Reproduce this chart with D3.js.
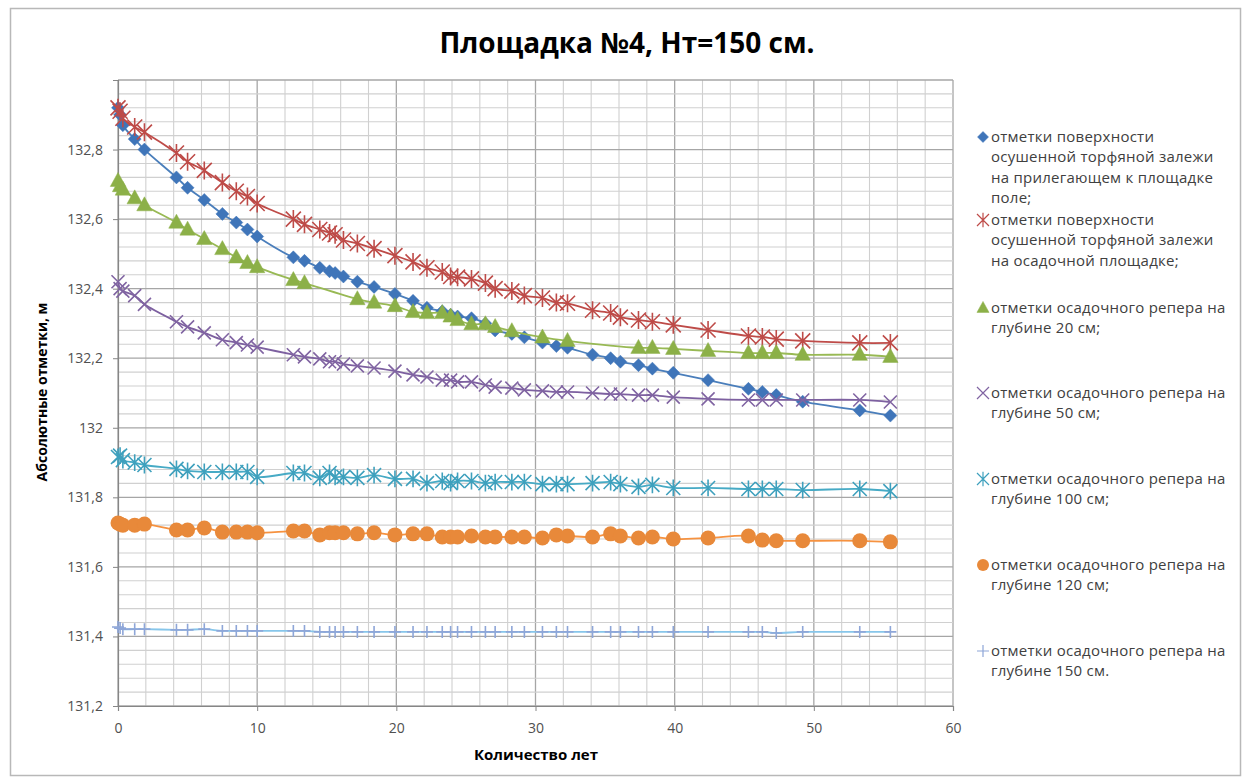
<!DOCTYPE html>
<html><head><meta charset="utf-8">
<script src="https://cdn.jsdelivr.net/npm/d3@7"></script>
<style>body{margin:0;background:#fff}svg{display:block}</style>
</head><body><svg id="c" width="1247" height="781"></svg>
<script>
const title = "Площадка №4, Нт=150 см.";
const xTitle = "Количество лет";
const yTitle = "Абсолютные отметки, м";
const xTicks = [0,10,20,30,40,50,60];
const yTicks = [131.2,131.4,131.6,131.8,132,132.2,132.4,132.6,132.8];
const years = [0,0.15,0.35,1.2,1.9,4.2,5.0,6.2,7.5,8.5,9.3,10.0,12.6,13.4,14.5,15.2,15.6,16.2,17.2,18.4,19.9,21.2,22.2,23.3,23.9,24.4,25.4,26.4,27.1,28.3,29.2,30.5,31.5,32.3,34.1,35.4,36.1,37.4,38.4,39.9,42.4,45.3,46.3,47.3,49.2,53.3,55.5];
const sFieldSurface = [132.92,132.90,132.87,132.83,132.80,132.72,132.69,132.655,132.615,132.59,132.57,132.55,132.49,132.48,132.46,132.45,132.445,132.435,132.42,132.405,132.385,132.365,132.345,132.335,132.325,132.32,132.315,132.30,132.28,132.27,132.26,132.245,132.235,132.23,132.21,132.20,132.19,132.18,132.17,132.158,132.137,132.112,132.103,132.094,132.075,132.05,132.035];
const sPlotSurface = [132.92,132.91,132.89,132.865,132.85,132.79,132.765,132.74,132.705,132.68,132.665,132.645,132.60,132.585,132.57,132.56,132.555,132.54,132.53,132.515,132.495,132.477,132.46,132.448,132.435,132.433,132.428,132.416,132.40,132.393,132.38,132.373,132.36,132.358,132.338,132.33,132.318,132.31,132.305,132.296,132.281,132.264,132.261,132.255,132.25,132.244,132.244];
const sDepth20 = [132.71,132.695,132.685,132.66,132.64,132.59,132.57,132.543,132.514,132.49,132.474,132.462,132.425,132.416,null,null,null,null,132.37,132.36,132.35,132.333,132.33,132.33,132.32,132.31,132.298,132.298,132.29,132.278,null,132.26,null,132.25,null,null,null,132.23,132.23,132.227,132.221,132.215,132.215,132.215,132.21,132.21,132.204];
const sDepth50 = [132.42,132.40,132.393,132.38,132.355,132.305,132.29,132.273,132.253,132.245,132.238,132.232,132.21,132.204,132.198,132.19,132.19,132.183,132.178,132.172,132.163,132.152,132.146,132.137,132.137,132.132,132.132,132.123,132.117,132.114,132.109,132.106,132.103,132.103,132.10,132.097,132.097,132.094,132.094,132.088,132.083,132.08,132.08,132.08,132.08,132.08,132.074];
const sDepth100 = [131.916,131.92,131.907,131.90,131.893,131.882,131.876,131.873,131.873,131.873,131.873,131.859,131.87,131.87,131.856,131.87,131.859,131.859,131.856,131.864,131.853,131.853,131.841,131.847,131.841,131.847,131.847,131.841,131.844,131.844,131.844,131.838,131.838,131.838,131.841,131.844,131.838,131.83,131.836,131.827,131.827,131.824,131.824,131.824,131.821,131.824,131.818];
const sDepth120 = [131.726,131.723,131.72,131.72,131.723,131.706,131.706,131.712,131.70,131.70,131.70,131.698,131.703,131.703,131.692,131.698,131.698,131.698,131.695,131.698,131.692,131.695,131.695,131.686,131.686,131.686,131.689,131.686,131.686,131.686,131.686,131.683,131.692,131.689,131.686,131.695,131.689,131.683,131.686,131.68,131.683,131.689,131.677,131.675,131.675,131.675,131.672];
const sDepth150 = [131.427,131.424,131.421,131.421,131.421,131.419,131.419,131.421,131.416,131.416,131.416,131.416,131.416,131.416,131.413,131.413,131.413,131.413,131.413,131.413,131.413,131.413,131.413,131.413,131.413,131.413,131.413,131.413,131.413,131.413,131.413,131.413,131.413,131.413,131.413,131.413,131.413,131.413,131.413,131.413,131.413,131.413,131.413,131.41,131.413,131.413,131.413];
const legendLabels = [
 ["отметки поверхности","осушенной торфяной залежи","на прилегающем к площадке","поле;"],
 ["отметки поверхности","осушенной торфяной залежи","на осадочной площадке;"],
 ["отметки осадочного репера на","глубине 20 см;"],
 ["отметки осадочного репера на","глубине 50 см;"],
 ["отметки осадочного репера на","глубине 100 см;"],
 ["отметки осадочного репера на","глубине 120 см;"],
 ["отметки осадочного репера на","глубине 150 см."]
];

const series = [
 {v:sFieldSurface, line:"#4A7EBB", mark:"#3F75B9", shape:"diamond", size:13},
 {v:sPlotSurface, line:"#BE4B48", mark:"#BE4B48", shape:"star", size:15},
 {v:sDepth20, line:"#98B954", mark:"#8CB048", shape:"triangle", size:14},
 {v:sDepth50, line:"#7D60A0", mark:"#8064A2", shape:"x", size:13},
 {v:sDepth100, line:"#46AAC5", mark:"#3EA0BD", shape:"star", size:14},
 {v:sDepth120, line:"#F69240", mark:"#E8893A", shape:"circle", size:15},
 {v:sDepth150, line:"#87C6EA", mark:"#8EA6D8", shape:"plus", size:12}
];

const svg = d3.select("#c");
const font = "'Open Sans', 'Liberation Sans', sans-serif";
const L=118, R=953, T=80, B=706;
const x = d3.scaleLinear().domain([0,60]).range([L,R]);
const y = d3.scaleLinear().domain([131.2,133.0]).range([B,T]);

// outer border
svg.append("rect").attr("x",10.5).attr("y",8.5).attr("width",1230).attr("height",767)
  .attr("fill","#fff").attr("stroke","#B8B8B8").attr("stroke-width",1.5);

// grid
const g = svg.append("g");
d3.range(0,60.001,2).forEach(v=>{
  const major = Math.abs(v%10)<1e-6;
  g.append("line").attr("x1",x(v)).attr("x2",x(v)).attr("y1",T).attr("y2",B)
   .attr("stroke", major?"#A6A6A6":"#D0D0D0").attr("stroke-width",major?1.3:1.1);
});
d3.range(0,46).forEach(i=>{
  const v = 131.2 + i*0.04;
  const major = i%5===0;
  g.append("line").attr("x1",L).attr("x2",R).attr("y1",y(v)).attr("y2",y(v))
   .attr("stroke", major?"#A6A6A6":"#D0D0D0").attr("stroke-width",major?1.3:1.1);
});

// axes
const xa = svg.append("g").attr("transform",`translate(0,${B})`)
  .call(d3.axisBottom(x).tickValues(xTicks).tickSize(5).tickPadding(12).tickFormat(d3.format("d")));
const ya = svg.append("g").attr("transform",`translate(${L},0)`)
  .call(d3.axisLeft(y).tickValues(yTicks).tickSize(5).tickPadding(10).tickFormat(d=>String(+d.toFixed(1)).replace(".",",")));
[xa,ya].forEach(a=>{
  a.select(".domain").attr("stroke","#868686").attr("stroke-width",1.2);
  a.selectAll(".tick line").attr("stroke","#868686");
  a.selectAll("text").attr("font-family",font).attr("font-size",14).attr("fill","#505050");
});

// lines and markers
const sym = {
 diamond: s=>`M0,${-s/2}L${s/2},0L0,${s/2}L${-s/2},0Z`,
 triangle: s=>`M0,${-s*0.6}L${s*0.55},${s*0.4}L${-s*0.55},${s*0.4}Z`,
 x: s=>`M${-s/2},${-s/2}L${s/2},${s/2}M${-s/2},${s/2}L${s/2},${-s/2}`,
 star: s=>`M${-s/2},${-s/2}L${s/2},${s/2}M${-s/2},${s/2}L${s/2},${-s/2}M0,${-s*0.6}L0,${s*0.6}`,
 plus: s=>`M${-s/2},0L${s/2},0M0,${-s/2}L0,${s/2}`,
};
const lineGen = d3.line().x(d=>x(d[0])).y(d=>y(d[1])).curve(d3.curveCatmullRom.alpha(0.5));
series.forEach(s=>{
  const pts = years.map((t,i)=>[t,s.v[i]]).filter(d=>d[1]!=null);
  svg.append("path").attr("d",lineGen(pts)).attr("fill","none").attr("stroke",s.line).attr("stroke-width",1.8);
  const mg = svg.append("g");
  pts.forEach(d=>{
    if(s.shape==="circle"){
      mg.append("circle").attr("cx",x(d[0])).attr("cy",y(d[1])).attr("r",s.size/2).attr("fill",s.mark);
    } else {
      const filled = s.shape==="diamond"||s.shape==="triangle";
      mg.append("path").attr("transform",`translate(${x(d[0])},${y(d[1])})`).attr("d",sym[s.shape](s.size))
        .attr("fill",filled?s.mark:"none").attr("stroke",s.mark).attr("stroke-width",filled?0.5:1.6);
    }
  });
});

// titles
svg.append("text").attr("x",627).attr("y",53).attr("text-anchor","middle").attr("font-family",font)
  .attr("font-weight","bold").attr("font-size",28).attr("fill","#000").text(title);
svg.append("text").attr("x",536).attr("y",760).attr("text-anchor","middle").attr("font-family",font)
  .attr("font-weight","bold").attr("font-size",15).attr("fill","#000").text(xTitle);
svg.append("text").attr("transform","translate(47,392) rotate(-90)").attr("text-anchor","middle").attr("font-family",font)
  .attr("font-weight","bold").attr("font-size",14).attr("fill","#000").text(yTitle);

// legend
const legY = [137,220,308,393,479,565,651];
series.forEach((s,i)=>{
  const lx=983, ly=legY[i];
  if(s.shape==="circle"){
    svg.append("circle").attr("cx",lx).attr("cy",ly).attr("r",6).attr("fill",s.mark);
  } else {
    const filled = s.shape==="diamond"||s.shape==="triangle";
    svg.append("path").attr("transform",`translate(${lx},${ly})`).attr("d",sym[s.shape](filled?11:12))
      .attr("fill",filled?s.mark:"none").attr("stroke",s.mark).attr("stroke-width",filled?0.5:1.2);
  }
  legendLabels[i].forEach((t,j)=>{
    svg.append("text").attr("x",991).attr("y",ly+5+j*20.3).attr("font-family",font).attr("font-size",15)
      .attr("letter-spacing",0.25).attr("fill","#404040").text(t);
  });
});
</script></body></html>
